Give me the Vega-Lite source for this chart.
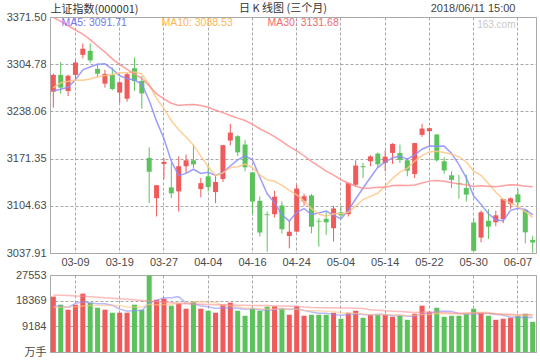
{
  "$schema": "https://vega.github.io/schema/vega-lite/v6.json",
  "padding": {"left": 5, "right": 4, "top": 2, "bottom": 3},
  "background": "white",
  "title": {"text": "2018/06/11 15:00", "subtitle": "163.com", "anchor": "end", "frame": "bounds", "font": "Liberation Sans", "fontSize": 11, "fontWeight": "normal", "color": "#444444", "subtitleFont": "Liberation Sans", "subtitleFontSize": 10, "subtitleColor": "#c8c8c8", "subtitlePadding": 6, "offset": 0, "dx": -21, "dy": 27},
  "config": {
    "view": {"stroke": "#aaaaaa", "strokeWidth": 1},
    "axis": {"ticks": false, "domain": false, "gridColor": "#a8a8a8", "gridDash": [3, 2], "gridWidth": 1, "gridOpacity": 1, "labelOverlap": false, "labelFont": "Liberation Sans, Noto Sans CJK SC", "labelFontSize": 11, "labelColor": "#4a4a4a", "titleFont": "Noto Sans CJK SC", "titleFontWeight": "normal", "titleColor": "#333333"},
    "title": {"font": "Noto Sans CJK SC", "fontSize": 11, "fontWeight": "normal", "color": "#333333"}
  },
  "data": {"values": [
    {"d":"03-06","o":3266.0,"h":3291.5,"l":3243.3,"c":3289.64,"v":19810,"m5":3266.85,"m10":3271.26,"m30":3371.10,"vm5":16570,"vm10":15970,"vm30":20410},
    {"d":"03-07","o":3289.6,"h":3308.1,"l":3263.1,"c":3271.67,"v":16930,"m5":3269.30,"m10":3278.52,"m30":3365.33,"vm5":16330,"vm10":16000,"vm30":20300},
    {"d":"03-08","o":3266.9,"h":3289.8,"l":3259.8,"c":3288.41,"v":15130,"m5":3272.24,"m10":3280.50,"m30":3359.12,"vm5":15970,"vm10":16050,"vm30":20190},
    {"d":"03-09","o":3289.6,"h":3310.5,"l":3282.5,"c":3307.17,"v":16930,"m5":3282.76,"m10":3282.32,"m30":3353.10,"vm5":17410,"vm10":16200,"vm30":20080},
    {"d":"03-12","o":3318.0,"h":3334.1,"l":3312.8,"c":3326.70,"v":20890,"m5":3296.72,"m10":3282.03,"m30":3347.28,"vm5":17938,"vm10":16500,"vm30":19920},
    {"d":"03-13","o":3323.7,"h":3334.1,"l":3306.7,"c":3310.24,"v":17650,"m5":3300.84,"m10":3283.85,"m30":3339.40,"vm5":17506,"vm10":16600,"vm30":19750},
    {"d":"03-14","o":3298.2,"h":3305.7,"l":3285.9,"c":3291.38,"v":15850,"m5":3304.78,"m10":3287.04,"m30":3330.47,"vm5":17290,"vm10":16600,"vm30":19580},
    {"d":"03-15","o":3277.3,"h":3296.7,"l":3271.7,"c":3291.11,"v":15130,"m5":3305.32,"m10":3288.78,"m30":3321.89,"vm5":17290,"vm10":16600,"vm30":19400},
    {"d":"03-16","o":3289.6,"h":3300.1,"l":3268.0,"c":3269.88,"v":14050,"m5":3297.86,"m10":3290.31,"m30":3312.28,"vm5":16714,"vm10":16620,"vm30":19220},
    {"d":"03-19","o":3264.6,"h":3281.1,"l":3250.4,"c":3279.25,"v":14050,"m5":3288.37,"m10":3292.55,"m30":3304.16,"vm5":15346,"vm10":16642,"vm30":19030},
    {"d":"03-20","o":3256.0,"h":3293.0,"l":3251.8,"c":3290.64,"v":14050,"m5":3284.45,"m10":3292.65,"m30":3297.58,"vm5":14626,"vm10":16066,"vm30":18850},
    {"d":"03-21","o":3299.1,"h":3314.2,"l":3266.9,"c":3280.95,"v":16930,"m5":3282.37,"m10":3293.57,"m30":3290.92,"vm5":14842,"vm10":16066,"vm30":18660},
    {"d":"03-22","o":3281.1,"h":3288.2,"l":3241.9,"c":3263.48,"v":15130,"m5":3276.84,"m10":3291.08,"m30":3284.80,"vm5":14842,"vm10":16066,"vm30":18450},
    {"d":"03-23","o":3172.3,"h":3187.4,"l":3108.4,"c":3152.76,"v":27370,"m5":3253.42,"m10":3275.64,"m30":3274.49,"vm5":17506,"vm10":17110,"vm30":18250},
    {"d":"03-26","o":3115.5,"h":3134.0,"l":3089.5,"c":3133.72,"v":18730,"m5":3224.31,"m10":3256.34,"m30":3262.70,"vm5":18442,"vm10":16894,"vm30":18050},
    {"d":"03-27","o":3163.8,"h":3172.3,"l":3142.5,"c":3166.65,"v":19090,"m5":3199.51,"m10":3241.98,"m30":3255.90,"vm5":19450,"vm10":17038,"vm30":17850},
    {"d":"03-28","o":3130.6,"h":3165.2,"l":3115.5,"c":3122.29,"v":16570,"m5":3167.78,"m10":3225.07,"m30":3249.66,"vm5":19378,"vm10":17110,"vm30":17650},
    {"d":"03-29","o":3125.0,"h":3174.7,"l":3096.6,"c":3160.53,"v":17290,"m5":3147.19,"m10":3212.02,"m30":3246.28,"vm5":19810,"vm10":17326,"vm30":17450},
    {"d":"03-30","o":3160.5,"h":3177.0,"l":3151.0,"c":3168.90,"v":15490,"m5":3150.42,"m10":3201.92,"m30":3247.58,"vm5":17434,"vm10":17470,"vm30":17280},
    {"d":"04-02","o":3169.0,"h":3191.2,"l":3158.1,"c":3163.18,"v":18010,"m5":3156.31,"m10":3190.31,"m30":3247.88,"vm5":17290,"vm10":17866,"vm30":17170},
    {"d":"04-03","o":3128.3,"h":3143.9,"l":3116.5,"c":3136.63,"v":15490,"m5":3150.31,"m10":3174.91,"m30":3246.27,"vm5":16570,"vm10":18010,"vm30":17100},
    {"d":"04-04","o":3146.3,"h":3162.8,"l":3125.0,"c":3131.11,"v":14770,"m5":3152.07,"m10":3159.93,"m30":3244.00,"vm5":16210,"vm10":17794,"vm30":17020},
    {"d":"04-09","o":3124.0,"h":3148.6,"l":3108.4,"c":3138.29,"v":14050,"m5":3147.62,"m10":3147.41,"m30":3239.66,"vm5":15562,"vm10":17686,"vm30":16950},
    {"d":"04-10","o":3142.5,"h":3190.8,"l":3138.2,"c":3190.32,"v":16930,"m5":3151.91,"m10":3151.16,"m30":3236.37,"vm5":15850,"vm10":16642,"vm30":16880},
    {"d":"04-11","o":3196.9,"h":3220.6,"l":3190.3,"c":3208.08,"v":17650,"m5":3160.89,"m10":3158.60,"m30":3232.32,"vm5":15778,"vm10":16534,"vm30":16820},
    {"d":"04-12","o":3203.0,"h":3204.5,"l":3174.7,"c":3180.16,"v":14770,"m5":3169.59,"m10":3159.95,"m30":3228.59,"vm5":15634,"vm10":16102,"vm30":16760},
    {"d":"04-13","o":3191.2,"h":3197.4,"l":3153.4,"c":3159.05,"v":12970,"m5":3175.18,"m10":3163.63,"m30":3225.25,"vm5":15274,"vm10":15742,"vm30":16700},
    {"d":"04-16","o":3151.9,"h":3152.5,"l":3092.8,"c":3110.65,"v":15490,"m5":3169.65,"m10":3158.64,"m30":3219.81,"vm5":15562,"vm10":15562,"vm30":16660},
    {"d":"04-17","o":3111.7,"h":3117.9,"l":3061.1,"c":3066.80,"v":14770,"m5":3144.95,"m10":3148.43,"m30":3213.55,"vm5":15130,"vm10":15490,"vm30":16630},
    {"d":"04-18","o":3092.6,"h":3096.6,"l":3039.8,"c":3091.40,"v":16210,"m5":3121.61,"m10":3141.25,"m30":3208.03,"vm5":14842,"vm10":15310,"vm30":16606},
    {"d":"04-19","o":3092.8,"h":3125.9,"l":3088.1,"c":3117.38,"v":16330,"m5":3109.06,"m10":3139.32,"m30":3202.29,"vm5":15154,"vm10":15394,"vm30":16490},
    {"d":"04-20","o":3105.1,"h":3110.8,"l":3065.3,"c":3071.54,"v":15490,"m5":3091.55,"m10":3133.37,"m30":3195.62,"vm5":15658,"vm10":15466,"vm30":16442},
    {"d":"04-23","o":3062.0,"h":3083.3,"l":3044.5,"c":3068.01,"v":13330,"m5":3083.03,"m10":3126.34,"m30":3188.28,"vm5":15226,"vm10":15394,"vm30":16382},
    {"d":"04-24","o":3068.2,"h":3134.4,"l":3067.0,"c":3128.93,"v":16330,"m5":3095.45,"m10":3120.20,"m30":3182.33,"vm5":15538,"vm10":15334,"vm30":16362},
    {"d":"04-25","o":3110.8,"h":3121.7,"l":3104.6,"c":3117.97,"v":12970,"m5":3100.77,"m10":3111.19,"m30":3175.38,"vm5":14890,"vm10":14866,"vm30":16098},
    {"d":"04-26","o":3119.3,"h":3121.2,"l":3065.8,"c":3075.03,"v":13330,"m5":3092.30,"m10":3100.68,"m30":3167.54,"vm5":14290,"vm10":14722,"vm30":15954},
    {"d":"04-27","o":3083.3,"h":3087.1,"l":3046.9,"c":3082.23,"v":13330,"m5":3094.43,"m10":3092.99,"m30":3160.56,"vm5":13858,"vm10":14758,"vm30":15870},
    {"d":"05-02","o":3086.2,"h":3095.6,"l":3063.5,"c":3081.18,"v":13330,"m5":3097.07,"m10":3090.05,"m30":3153.57,"vm5":13858,"vm10":14542,"vm30":15810},
    {"d":"05-03","o":3072.9,"h":3104.6,"l":3054.0,"c":3100.86,"v":14050,"m5":3091.45,"m10":3093.45,"m30":3147.93,"vm5":13402,"vm10":14470,"vm30":15810},
    {"d":"05-04","o":3095.3,"h":3103.7,"l":3086.2,"c":3091.03,"v":11890,"m5":3086.07,"m10":3093.42,"m30":3141.66,"vm5":13186,"vm10":14038,"vm30":15738},
    {"d":"05-07","o":3092.8,"h":3137.7,"l":3089.5,"c":3136.65,"v":14050,"m5":3098.39,"m10":3095.34,"m30":3136.53,"vm5":13330,"vm10":13810,"vm30":15738},
    {"d":"05-08","o":3134.4,"h":3169.0,"l":3131.1,"c":3161.50,"v":14770,"m5":3114.24,"m10":3104.34,"m30":3132.54,"vm5":13618,"vm10":13738,"vm30":15666},
    {"d":"05-09","o":3160.6,"h":3165.2,"l":3143.9,"c":3159.15,"v":12250,"m5":3129.84,"m10":3113.45,"m30":3129.07,"vm5":13402,"vm10":13630,"vm30":15570},
    {"d":"05-10","o":3167.6,"h":3176.1,"l":3160.5,"c":3174.41,"v":13330,"m5":3144.55,"m10":3118.00,"m30":3129.79,"vm5":13258,"vm10":13330,"vm30":15102},
    {"d":"05-11","o":3178.4,"h":3180.0,"l":3158.0,"c":3163.26,"v":13330,"m5":3158.99,"m10":3122.53,"m30":3130.77,"vm5":13546,"vm10":13366,"vm30":14922},
    {"d":"05-14","o":3165.2,"h":3182.7,"l":3153.4,"c":3174.03,"v":13330,"m5":3166.47,"m10":3132.43,"m30":3131.02,"vm5":13402,"vm10":13366,"vm30":14730},
    {"d":"05-15","o":3179.4,"h":3193.1,"l":3163.8,"c":3192.12,"v":12610,"m5":3172.59,"m10":3143.42,"m30":3133.35,"vm5":12970,"vm10":13294,"vm30":14598},
    {"d":"05-16","o":3179.4,"h":3191.2,"l":3165.2,"c":3169.57,"v":12970,"m5":3174.68,"m10":3152.26,"m30":3133.65,"vm5":13114,"vm10":13258,"vm30":14454},
    {"d":"05-17","o":3169.0,"h":3172.3,"l":3146.3,"c":3154.28,"v":11530,"m5":3170.65,"m10":3157.60,"m30":3133.16,"vm5":12754,"vm10":13006,"vm30":14322},
    {"d":"05-18","o":3149.6,"h":3193.5,"l":3143.9,"c":3193.30,"v":13690,"m5":3176.66,"m10":3167.83,"m30":3134.16,"vm5":12826,"vm10":13186,"vm30":14178},
    {"d":"05-21","o":3204.9,"h":3220.6,"l":3202.1,"c":3213.84,"v":16570,"m5":3184.62,"m10":3175.55,"m30":3136.74,"vm5":13474,"vm10":13438,"vm30":14214},
    {"d":"05-22","o":3210.1,"h":3215.0,"l":3188.8,"c":3214.35,"v":14410,"m5":3189.07,"m10":3180.83,"m30":3139.51,"vm5":13834,"vm10":13402,"vm30":14202},
    {"d":"05-23","o":3205.4,"h":3206.0,"l":3167.0,"c":3168.96,"v":15850,"m5":3188.95,"m10":3181.81,"m30":3140.53,"vm5":14410,"vm10":13762,"vm30":14262},
    {"d":"05-24","o":3167.6,"h":3173.2,"l":3150.0,"c":3154.65,"v":12610,"m5":3189.02,"m10":3179.84,"m30":3139.35,"vm5":14626,"vm10":13690,"vm30":14118},
    {"d":"05-25","o":3147.7,"h":3153.4,"l":3129.7,"c":3141.30,"v":12970,"m5":3178.62,"m10":3177.64,"m30":3137.12,"vm5":14482,"vm10":13654,"vm30":13962},
    {"d":"05-28","o":3136.8,"h":3148.6,"l":3114.6,"c":3135.08,"v":12970,"m5":3162.87,"m10":3173.75,"m30":3135.62,"vm5":13762,"vm10":13618,"vm30":13902},
    {"d":"05-29","o":3129.7,"h":3148.6,"l":3110.8,"c":3120.46,"v":13690,"m5":3144.09,"m10":3166.58,"m30":3134.33,"vm5":13618,"vm10":13726,"vm30":13926},
    {"d":"05-30","o":3081.0,"h":3086.2,"l":3039.0,"c":3041.00,"v":15490,"m5":3118.50,"m10":3153.72,"m30":3132.01,"vm5":13546,"vm10":13978,"vm30":13926},
    {"d":"05-31","o":3059.7,"h":3098.0,"l":3053.0,"c":3095.47,"v":14050,"m5":3106.66,"m10":3147.84,"m30":3132.96,"vm5":13834,"vm10":14230,"vm30":13902},
    {"d":"06-01","o":3083.3,"h":3099.9,"l":3057.8,"c":3075.14,"v":12970,"m5":3093.43,"m10":3136.03,"m30":3132.42,"vm5":13834,"vm10":14158,"vm30":13794},
    {"d":"06-04","o":3081.4,"h":3097.5,"l":3075.8,"c":3091.19,"v":11530,"m5":3084.65,"m10":3123.76,"m30":3131.55,"vm5":13546,"vm10":13654,"vm30":13634},
    {"d":"06-05","o":3085.7,"h":3114.6,"l":3080.0,"c":3114.21,"v":11890,"m5":3083.40,"m10":3113.75,"m30":3132.97,"vm5":13186,"vm10":13402,"vm30":13514},
    {"d":"06-06","o":3107.0,"h":3116.5,"l":3100.4,"c":3115.18,"v":12250,"m5":3098.24,"m10":3108.37,"m30":3134.54,"vm5":12538,"vm10":13042,"vm30":13478},
    {"d":"06-07","o":3120.7,"h":3128.3,"l":3102.3,"c":3109.50,"v":12970,"m5":3101.04,"m10":3103.85,"m30":3133.90,"vm5":12322,"vm10":13078,"vm30":13367},
    {"d":"06-08","o":3098.9,"h":3099.5,"l":3051.6,"c":3067.15,"v":13690,"m5":3099.45,"m10":3096.44,"m30":3132.20,"vm5":12466,"vm10":13150,"vm30":13391},
    {"d":"06-11","o":3056.4,"h":3062.0,"l":3038.2,"c":3052.78,"v":10810,"m5":3091.76,"m10":3088.21,"m30":3131.46,"vm5":12322,"vm10":12934,"vm30":13307}
  ]},
  "spacing": 22,
  "bounds": "flush",
  "resolve": {"scale": {"color": "independent"}, "legend": {"color": "independent"}},
  "vconcat": [
    {
      "width": 486,
      "height": 236,
      "title": {"text": "日 K 线图 (三个月)", "anchor": "middle", "frame": "group", "offset": 0, "dx": -10, "dy": 11},
      "layer": [
        {
          "mark": {"type": "rule", "strokeWidth": 1},
          "encoding": {
            "x": {"field": "d", "type": "ordinal", "sort": null,
                  "scale": {"paddingInner": 0.32, "paddingOuter": 0.11},
                  "axis": {"orient": "bottom", "title": null, "values": ["03-09","03-19","03-27","04-04","04-16","04-24","05-04","05-14","05-22","05-30","06-07"], "labelAngle": 0, "labelPadding": 3, "grid": true, "bandPosition": 0.5}},
            "y": {"field": "l", "type": "quantitative",
                  "scale": {"domain": [3037.91, 3371.5], "nice": false, "zero": false},
                  "axis": {"orient": "left", "title": null, "values": [3037.91, 3104.63, 3171.35, 3238.06, 3304.78, 3371.5], "format": ".2f", "labelPadding": 4, "grid": true}},
            "y2": {"field": "h"},
            "color": {"condition": {"test": "datum.c > datum.o", "value": "#ef5a5a"}, "value": "#5cc25c"}
          }
        },
        {
          "mark": {"type": "bar"},
          "encoding": {
            "x": {"field": "d", "type": "ordinal", "sort": null, "scale": {"paddingInner": 0.32, "paddingOuter": 0.11},
                  "axis": {"orient": "bottom", "labels": false, "grid": false, "title": null}},
            "y": {"field": "o", "type": "quantitative",
                  "axis": {"orient": "left", "title": null, "values": [3037.91, 3104.63, 3171.35, 3238.06, 3304.78, 3371.5], "format": ".2f", "labelPadding": 4, "grid": true}},
            "y2": {"field": "c"},
            "color": {"condition": {"test": "datum.c > datum.o", "value": "#ef5a5a"}, "value": "#5cc25c"}
          }
        },
        {
          "transform": [{"fold": ["m5", "m10", "m30"], "as": ["k", "val"]}],
          "mark": {"type": "line", "strokeWidth": 1.5, "opacity": 0.85},
          "encoding": {
            "x": {"field": "d", "type": "ordinal", "sort": null, "scale": {"paddingInner": 0.32, "paddingOuter": 0.11},
                  "axis": {"orient": "top", "labels": false, "grid": false, "title": "上证指数(000001)", "titleAnchor": "start", "titlePadding": 3, "titleFontSize": 11}},
            "y": {"field": "val", "type": "quantitative",
                  "axis": {"orient": "left", "title": null, "values": [3037.91, 3104.63, 3171.35, 3238.06, 3304.78, 3371.5], "format": ".2f", "labelPadding": 4, "grid": true}},
            "color": {"field": "k", "type": "nominal",
                      "scale": {"domain": ["m5", "m10", "m30"], "range": ["#8c8cff", "#ffc585", "#ff8f8f"]},
                      "legend": {"orient": "top-left", "direction": "horizontal", "title": null, "offset": 1, "padding": 0,
                                 "symbolSize": 0, "symbolStrokeWidth": 0, "symbolOpacity": 0, "labelOffset": 0, "columnPadding": 24,
                                 "labelFont": "Liberation Sans", "labelFontSize": 10.5,
                                 "labelExpr": "datum.value == 'm5' ? 'MA5: 3091.71' : datum.value == 'm10' ? 'MA10: 3088.53' : 'MA30: 3131.68'",
                                 "encode": {"labels": {"update": {"fill": {"signal": "datum.value == 'm5' ? '#7676f2' : datum.value == 'm10' ? '#ffb652' : '#f26c6c'"}}}}}}
          }
        }
      ]
    },
    {
      "width": 486,
      "height": 77,
      "layer": [
        {
          "mark": {"type": "bar"},
          "encoding": {
            "x": {"field": "d", "type": "ordinal", "sort": null,
                  "scale": {"paddingInner": 0.32, "paddingOuter": 0.11},
                  "axis": {"title": null, "labels": false, "grid": true, "bandPosition": 0.5, "values": ["03-09","03-19","03-27","04-04","04-16","04-24","05-04","05-14","05-22","05-30","06-07"]}},
            "y": {"field": "v", "type": "quantitative",
                  "scale": {"domain": [0, 27553], "nice": false},
                  "axis": {"orient": "left", "title": null, "values": [0, 9184, 18369, 27553], "format": "d", "labelPadding": 4, "grid": true, "tickCount": 4,
                           "labelExpr": "datum.value == 0 ? '万手' : datum.label"}},
            "color": {"condition": {"test": "datum.c > datum.o", "value": "#ef5a5a"}, "value": "#5cc25c"}
          }
        },
        {
          "transform": [{"fold": ["vm5", "vm10", "vm30"], "as": ["k", "val"]}],
          "mark": {"type": "line", "strokeWidth": 1.5, "opacity": 0.6},
          "encoding": {
            "x": {"field": "d", "type": "ordinal", "sort": null, "scale": {"paddingInner": 0.32, "paddingOuter": 0.11},
                  "axis": {"title": null, "labels": false, "grid": true, "bandPosition": 0.5, "values": ["03-09","03-19","03-27","04-04","04-16","04-24","05-04","05-14","05-22","05-30","06-07"]}},
            "y": {"field": "val", "type": "quantitative",
                  "axis": {"orient": "left", "title": null, "values": [0, 9184, 18369, 27553], "format": "d", "labelPadding": 4, "grid": true, "tickCount": 4,
                           "labelExpr": "datum.value == 0 ? '万手' : datum.label"}},
            "color": {"field": "k", "type": "nominal",
                      "scale": {"domain": ["vm5", "vm10", "vm30"], "range": ["#8c8cff", "#ffc585", "#ff8f8f"]},
                      "legend": null}
          }
        }
      ]
    }
  ]
}
